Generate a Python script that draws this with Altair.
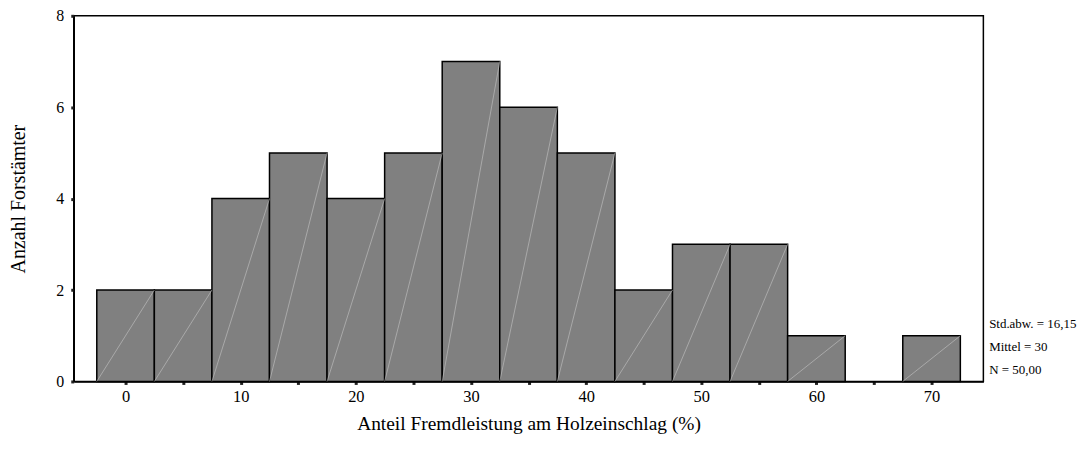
import altair as alt
import pandas as pd

bin_centers = [0, 5, 10, 15, 20, 25, 30, 35, 40, 45, 50, 55, 60, 65, 70]
counts = [2, 2, 4, 5, 4, 5, 7, 6, 5, 2, 3, 3, 1, 0, 1]
bin_width = 5
stats_text = ["Std.abw. = 16,15", "Mittel = 30", "N = 50,00"]
stats_y = [1.25, 0.76, 0.26]
stats_x = 75.0

df = pd.DataFrame({"center": bin_centers, "count": counts})
df["start"] = df["center"] - bin_width / 2
df["end"] = df["center"] + bin_width / 2
df["zero"] = 0
df = df[df["count"] > 0]

stats = pd.DataFrame({"label": stats_text, "y": stats_y, "x": [stats_x] * 3})

FONT = "Liberation Serif"

xscale = alt.Scale(domain=[-4.5, 74.5], nice=False, zero=False)
yscale = alt.Scale(domain=[0, 8], nice=False)

xaxis = alt.Axis(
    title="Anteil Fremdleistung am Holzeinschlag (%)",
    values=list(range(0, 75, 5)),
    labelExpr="datum.value % 10 == 0 ? datum.label : ''",
    grid=False, tickSize=3, tickWidth=3, tickColor="#222",
    domainColor="black", domainWidth=1.5,
    labelFont=FONT, labelFontSize=16.5, labelColor="black", labelPadding=4,
    titleFont=FONT, titleFontSize=19.5, titleFontWeight="normal", titleColor="black",
    titlePadding=10,
)
yaxis = alt.Axis(
    title="Anzahl Forstämter",
    values=[0, 2, 4, 6, 8],
    grid=False, tickSize=3, tickWidth=3, tickColor="#222",
    domainColor="black", domainWidth=1.5,
    labelFont=FONT, labelFontSize=16, labelColor="black", labelPadding=7,
    titleFont=FONT, titleFontSize=20, titleFontWeight="normal", titleColor="black",
    titlePadding=27,
)

bars = alt.Chart(df).mark_bar(fill="#808080", stroke="black", strokeWidth=1.5).encode(
    x=alt.X("start:Q", scale=xscale, axis=xaxis),
    x2="end:Q",
    y=alt.Y("count:Q", scale=yscale, axis=yaxis),
    y2="zero:Q",
)

diag = alt.Chart(df).mark_rule(color="#c4c4c4", strokeWidth=0.6).encode(
    x=alt.X("start:Q", scale=xscale),
    x2="end:Q",
    y=alt.Y("zero:Q", scale=yscale),
    y2="count:Q",
)

txt = alt.Chart(stats).mark_text(
    align="left", baseline="middle", font=FONT, fontSize=13, color="black", clip=False
).encode(
    x=alt.X("x:Q", scale=xscale),
    y=alt.Y("y:Q", scale=yscale),
    text="label:N",
)

chart = alt.layer(bars, diag, txt).properties(
    width=913, height=367,
    autosize=alt.AutoSizeParams(type="none"),
    padding={"left": 66, "top": 7, "right": 100, "bottom": 70},
).configure_view(stroke="black", strokeWidth=1.5)

chart.save("out.html", embed_options={"renderer": "svg", "actions": False})
